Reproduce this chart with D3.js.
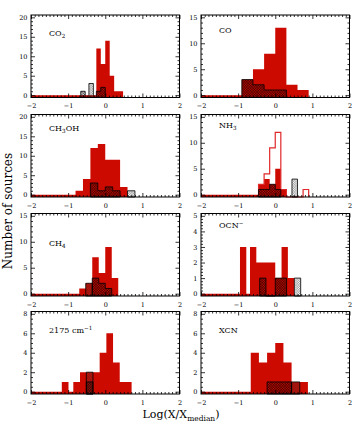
<!DOCTYPE html>
<html>
<head>
<meta charset="utf-8">
<style>
html, body { margin: 0; padding: 0; background: #fff; }
svg { display: block; }
text { font-family: "DejaVu Serif", "Liberation Serif", serif; fill: #000; }
</style>
</head>
<body>
<svg width="360" height="426"></svg>
<script src="https://cdnjs.cloudflare.com/ajax/libs/d3/7.8.5/d3.min.js"></script>
<script>
// panel titles (_ = subscript, ^ = superscript)
const panelNames = ["CO_2", "CO", "CH_3OH", "NH_3", "CH_4", "OCN^\u2212", "2175 cm^\u22121", "XCN"];
const xTicks = [-2, -1, 0, 1, 2];
const yMax = [20, 15, 20, 15, 15, 5, 8, 8];
const yStep = [5, 5, 5, 5, 5, 1, 2, 2];
const yMinor = [1, 1, 1, 1, 1, 0.2, 0.5, 0.5];
const binWidth = [0.12, 0.3, 0.2, 0.15, 0.175, 0.17, 0.18, 0.22];

// histograms: [bin centre, number of sources]
const co2Red = [[-0.18, 12], [-0.06, 8], [0.06, 14], [0.18, 5], [0.30, 1], [0.42, 1]];
const co2Dark = [[-0.6, 1], [-0.18, 1], [-0.06, 2]];
const co2Light = [[-0.38, 3]];

const coRed = [[-0.75, 3], [-0.45, 5], [-0.15, 8], [0.15, 13], [0.45, 2], [0.75, 1]];
const coDark = [[-0.75, 3], [-0.45, 2], [-0.15, 1], [0.15, 1]];

const ch3ohRed = [[-0.7, 1], [-0.5, 4], [-0.3, 12], [-0.1, 13], [0.1, 9], [0.3, 9], [0.5, 2]];
const ch3ohDark = [[-0.3, 3], [-0.1, 1], [0.1, 2], [0.3, 1]];
const ch3ohLight = [[0.7, 1]];

const nh3Open = [[-0.375, 2], [-0.225, 4], [-0.075, 9], [0.075, 12], [0.225, 1], [0.825, 1]];
const nh3Red = [[-0.375, 2], [-0.225, 3], [-0.075, 2], [0.075, 5], [0.225, 1]];
const nh3Dark = [[-0.375, 1], [-0.225, 1], [-0.075, 2], [0.075, 1]];
const nh3Light = [[0.525, 3]];

const ch4Red = [[-0.6125, 1], [-0.4375, 2], [-0.2625, 7], [-0.0875, 4], [0.0875, 9], [0.2625, 3]];
const ch4Light = [[-0.4375, 2]];
const ch4Dark = [[-0.2625, 3], [-0.0875, 2], [0.0875, 1]];

const ocnRed = [[-0.865, 3], [-0.595, 3], [-0.425, 2], [-0.255, 2], [-0.085, 2], [0.085, 1], [0.255, 3], [0.425, 1]];
const ocnDark = [[-0.335, 1], [0.085, 1], [0.22, 1]];
const ocnLight = [[0.6, 1]];

const uvRed = [[-1.08, 1], [-0.77, 1], [-0.6, 2], [-0.42, 2], [-0.24, 2], [-0.06, 4], [0.12, 6], [0.30, 3], [0.48, 1], [0.62, 1]];
const uvLight = [[-0.42, 2]];
const uvDark = [[-0.42, 1]];

const xcnRed = [[-0.55, 4], [-0.33, 3], [-0.11, 4], [0.11, 5], [0.33, 3], [0.55, 1], [0.77, 1]];
const xcnDark = [[-0.11, 1], [0.11, 1], [0.33, 1]];
const xcnLight = [[0.55, 1]];

const panels = [
  {red: co2Red, dark: co2Dark, light: co2Light},
  {red: coRed, dark: coDark},
  {red: ch3ohRed, dark: ch3ohDark, light: ch3ohLight},
  {red: nh3Red, dark: nh3Dark, light: nh3Light, open: nh3Open},
  {red: ch4Red, dark: ch4Dark, light: ch4Light},
  {red: ocnRed, dark: ocnDark, light: ocnLight},
  {red: uvRed, dark: uvDark, light: uvLight},
  {red: xcnRed, dark: xcnDark, light: xcnLight}
];

const colX = [31, 201];
const rowY = [15, 114.5, 213.5, 311.5];
const pw = 148.5, ph = 82.5;
const red = "#cc0a00";

const svg = d3.select("svg");
const defs = svg.append("defs");

// cross-hatch fills
function hatch(id, size, sw, col) {
  const p = defs.append("pattern").attr("id", id)
    .attr("patternUnits", "userSpaceOnUse")
    .attr("width", size).attr("height", size)
    .attr("patternTransform", "rotate(45)");
  p.append("path")
    .attr("d", `M0,0H${size}M0,0V${size}`)
    .attr("stroke", col).attr("stroke-width", sw);
}
hatch("dark", 1.8, 0.8, "#000");
hatch("light", 1.7, 0.5, "#333");

// step outline of a histogram, in data units
function stepPts(bars, w, b, lead) {
  const s = bars.slice().sort((p, q) => p[0] - q[0]);
  const floor = lead ? 0 : b;
  let prev = lead ? -2 : s[0][0] - w / 2;
  const pts = [[prev, b], [prev, floor]];
  s.forEach(([c, n]) => {
    const l = Math.max(c - w / 2, prev), r = c + w / 2;
    if (l - prev > 1e-6) pts.push([prev, floor], [l, floor]);
    pts.push([l, n], [r, n]);
    prev = r;
  });
  pts.push([prev, b]);
  return pts;
}

function addLabel(sel, str) {
  const parts = str.match(/([_^])([^A-Z_^]+)|([^_^]+)/g);
  let shift = 0;
  parts.forEach(t => {
    let dy = 0, txt = t, fs = null;
    if (t[0] === "_") { dy = 2.2 - shift; shift = 2.2; txt = t.slice(1); fs = "5.6px"; }
    else if (t[0] === "^") { dy = -3 - shift; shift = -3; txt = t.slice(1); fs = "5.6px"; }
    else { dy = -shift; shift = 0; }
    const ts = sel.append("tspan").attr("dy", dy).text(txt);
    if (fs) ts.style("font-size", fs);
  });
}

panels.forEach((p, i) => {
  const col = i % 2, row = Math.floor(i / 2);
  const g = svg.append("g").attr("transform", `translate(${colX[col]},${rowY[row]})`);
  const x = d3.scaleLinear().domain([-2, 2]).range([0, pw]);
  const pad = 0.03 * yMax[i];
  const y = d3.scaleLinear().domain([-pad, yMax[i] + pad]).range([ph, 0]);
  const b = -pad, w = binWidth[i];
  const line = d3.line().x(d => x(d[0])).y(d => y(d[1]));

  g.append("path").attr("d", line(stepPts(p.red, w, b, true)) + "Z").attr("fill", red);
  if (p.open) {
    g.append("path").attr("d", line(stepPts(p.open, w, b, false)))
      .attr("fill", "none").attr("stroke", "#e0282a").attr("stroke-width", 1.2);
  }
  if (p.light) {
    g.append("path").attr("d", line(stepPts(p.light, w, b, false)) + "Z")
      .attr("fill", "url(#light)").attr("stroke", "#000").attr("stroke-width", 0.8);
  }
  if (p.dark) {
    g.append("path").attr("d", line(stepPts(p.dark, w, b, false)) + "Z")
      .attr("fill", "url(#dark)").attr("stroke", "#000").attr("stroke-width", 0.8);
  }

  const xMinor = d3.range(-2, 2.001, 0.1).filter(v => Math.abs(v - Math.round(v)) > 1e-6);
  const yMaj = d3.range(0, yMax[i] + 1e-6, yStep[i]);
  const yMin = d3.range(0, yMax[i] + 1e-6, yMinor[i]).filter(v => !yMaj.some(m => Math.abs(m - v) < 1e-6));

  const axes = [
    [d3.axisBottom(x), ph, 0, xTicks, xMinor, true],
    [d3.axisTop(x), 0, 0, xTicks, xMinor, false],
    [d3.axisLeft(y), 0, 0, yMaj, yMin, true],
    [d3.axisRight(y), 0, pw, yMaj, yMin, false]
  ];
  axes.forEach(([ax, ty, tx, maj, mn, lab], k) => {
    const a = g.append("g").attr("transform", `translate(${tx},${ty})`)
      .call(ax.tickValues(maj).tickSize(-4).tickSizeOuter(0).tickPadding(k === 0 ? 6 : 3.5)
        .tickFormat(lab ? d3.format("d") : ""));
    const am = g.append("g").attr("transform", `translate(${tx},${ty})`)
      .call(ax.tickValues(mn).tickSize(-2).tickFormat(""));
    [a, am].forEach(s => {
      s.select(".domain").remove();
      s.selectAll("line").attr("stroke", "#000").attr("stroke-width", 0.8);
      s.selectAll("text").attr("font-size", 6.5).attr("font-family", "DejaVu Serif");
    });
  });

  g.append("rect").attr("width", pw).attr("height", ph)
    .attr("fill", "none").attr("stroke", "#000").attr("stroke-width", 1);

  const lbl = g.append("text").attr("x", 18).attr("y", [21, 18, 16, 13, 32, 14, 21, 21][i])
    .attr("font-size", 8);
  addLabel(lbl, panelNames[i]);
});

svg.append("text")
  .attr("transform", "translate(12,211) rotate(-90)")
  .attr("text-anchor", "middle").attr("font-size", 12)
  .text("Number of sources");

const xl = svg.append("text").attr("x", 181).attr("y", 418)
  .attr("text-anchor", "middle").attr("font-size", 11);
xl.append("tspan").text("Log(X/X");
xl.append("tspan").attr("dy", 2.5).style("font-size", "7.5px").text("median");
xl.append("tspan").attr("dy", -2.5).text(")");
</script>
</body>
</html>
